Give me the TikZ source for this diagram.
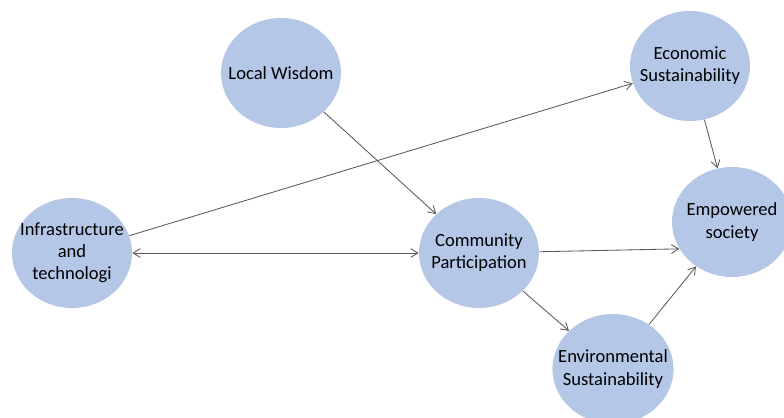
\documentclass[tikz,border=0pt]{standalone}
\usepackage{fontspec}
\setmainfont{Carlito}
\usetikzlibrary{shapes.geometric,arrows.meta}

\definecolor{bubblefill}{HTML}{B4C7E7}
\definecolor{arrowgray}{HTML}{595959}

\begin{document}
\begin{tikzpicture}[
        node distance=1cm,
        bubble/.style={ellipse, fill=bubblefill, minimum width=3cm, minimum height=2.75cm, inner sep=-0.3cm, align=center, font=\fontsize{13.2}{15.8}\selectfont},
        arrow/.style={->, >={Straight Barb[length=1.8mm,width=2.2mm]}, draw=arrowgray, line width=0.6pt}
    ]
        \useasboundingbox (-1.8,6.325) rectangle (17.8,-4.125);

        \node[bubble] (infra) {Infrastructure\\and\\technologi};
        \node[bubble, right of=infra, xshift=9.175cm] (comm) {Community\\Participation};
        \node[bubble, above of=infra, yshift=3.5cm, xshift=5.225cm] (wisdom) {Local Wisdom};
        \node[bubble, below of=comm, yshift=-1.9cm, xshift=3.35cm] (env) {Environmental\\Sustainability};
        \node[bubble, right of=comm, xshift=5.325cm, yshift=0.775cm] (emp) {Empowered\\society};
        \node[bubble, above of=emp, yshift=2.9cm, xshift=-1.05cm] (econ) {Economic\\Sustainability};

        \draw[arrow] (wisdom) -- (comm);
        \draw[arrow] (infra) -- (econ);
        \draw[arrow, <->] (infra) -- (comm);
        \draw[arrow] (comm) -- (emp.207);
        \draw[arrow] (comm) -- (env);
        \draw[arrow] (env) -- (emp);
        \draw[arrow] (econ) -- (emp);
    \end{tikzpicture}
\end{document}
